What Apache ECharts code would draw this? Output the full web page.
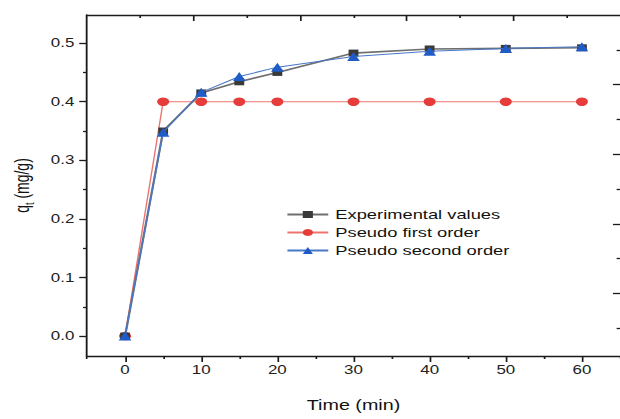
<!DOCTYPE html>
<html>
<head>
<meta charset="utf-8">
<script src="https://cdn.jsdelivr.net/npm/echarts@6/dist/echarts.min.js"></script>
<style>
html,body{margin:0;padding:0;background:#fff;overflow:hidden;}
#wrap{width:620px;height:419px;overflow:hidden;position:relative;}
#chart{width:440px;height:419px;transform:scaleX(1.40909);transform-origin:0 0;}
</style>
</head>
<body>
<div id="wrap"><div id="chart"></div></div>
<script>
// ---- data ----
var times = [0, 5, 10, 15, 20, 30, 40, 50, 60];
var experimental = [0, 0.350, 0.415, 0.434, 0.450, 0.483, 0.490, 0.491, 0.492];
var pseudoFirst  = [0, 0.400, 0.400, 0.400, 0.400, 0.400, 0.400, 0.400, 0.400];
var pseudoSecond = [0, 0.348, 0.416, 0.443, 0.459, 0.477, 0.486, 0.491, 0.494];
var seriesNames = ['Experimental values', 'Pseudo first order', 'Pseudo second order'];
var xMajorTicks = [0, 10, 20, 30, 40, 50, 60];
var xMinorTicks = [-5, 5, 15, 25, 35, 45, 55, 65];
var yMajorTicks = [0, 0.1, 0.2, 0.3, 0.4, 0.5];
var yMinorTicks = [0.05, 0.15, 0.25, 0.35, 0.45];
var topMajorTicks = [2, 4, 6, 8];
var topMinorTicks = [1, 3, 5, 7, 9];
var rightMajorTicks = [2, 4, 6, 8];
var rightMinorTicks = [1, 3, 5, 7, 9];

function pairs(xs, ys){ return xs.map(function(x,i){ return [x, ys[i]]; }); }

var FONT = 'Liberation Sans, Arial, sans-serif';
var AX = '#1a1a1a';
var S = 1.40909;

var chart = echarts.init(document.getElementById('chart'), null, {renderer:'svg'});

function hiddenAxisBase(){ return {axisLine:{show:false, onZero:false}, splitLine:{show:false}, axisLabel:{show:false}}; }

var option = {
  backgroundColor:'#fff',
  animation:false,
  grid:{left:87/S, top:15, right:0, bottom:63, containLabel:false},
  legend:{
    data: seriesNames,
    orient:'vertical',
    left: 286/S, top: 208,
    padding:0,
    itemWidth: 29, itemHeight: 9, itemGap: 5,
    textStyle:{fontFamily:FONT, fontSize:13, color:'#111'}
  },
  xAxis:[
    {type:'value', position:'bottom', min:-5, max:65,
     axisLine:{show:true, onZero:false, lineStyle:{color:AX, width:1.3}},
     axisTick:{show:true, inside:false, length:6, customValues:xMajorTicks, lineStyle:{color:AX, width:1.2}},
     axisLabel:{show:true, customValues:xMajorTicks, margin:8, fontFamily:FONT, fontSize:12, color:'#222'},
     splitLine:{show:false},
     name:'Time (min)', nameLocation:'middle', nameGap:42,
     nameTextStyle:{fontFamily:FONT, fontSize:14, color:'#111'}},
    Object.assign(hiddenAxisBase(), {type:'value', position:'bottom', min:-5, max:65,
     axisTick:{show:true, inside:false, length:3, customValues:xMinorTicks, lineStyle:{color:AX, width:1.2}}}),
    {type:'value', position:'top', min:0, max:10,
     axisLine:{show:true, onZero:false, lineStyle:{color:AX, width:1.3}},
     axisTick:{show:true, inside:true, length:6, customValues:topMajorTicks, lineStyle:{color:AX, width:1.2}},
     axisLabel:{show:false}, splitLine:{show:false}},
    Object.assign(hiddenAxisBase(), {type:'value', position:'top', min:0, max:10,
     axisTick:{show:true, inside:true, length:3, customValues:topMinorTicks, lineStyle:{color:AX, width:1.2}}})
  ],
  yAxis:[
    {type:'value', position:'left', min:-0.034, max:0.548,
     axisLine:{show:true, onZero:false, lineStyle:{color:AX, width:1.3}},
     axisTick:{show:true, inside:false, length:5.5, customValues:yMajorTicks, lineStyle:{color:AX, width:1.3}},
     axisLabel:{show:true, customValues:yMajorTicks, margin:9, fontFamily:FONT, fontSize:12, color:'#222',
       formatter:function(v){ return v.toFixed(1); }},
     splitLine:{show:false},
     name:'{a|q}{b|t}{a| (mg/g)}', nameLocation:'middle', nameGap:34, nameRotate:90,
     nameTextStyle:{fontFamily:FONT, color:'#111',
       rich:{a:{fontFamily:FONT, fontSize:14, color:'#111', lineHeight:18},
             b:{fontFamily:FONT, fontSize:9, color:'#111', lineHeight:18, verticalAlign:'bottom', padding:[6,0,0,0]}}}},
    Object.assign(hiddenAxisBase(), {type:'value', position:'left', min:-0.034, max:0.548,
     axisTick:{show:true, inside:false, length:2.8, customValues:yMinorTicks, lineStyle:{color:AX, width:1.3}}}),
    {type:'value', position:'right', min:0.2, max:10,
     axisLine:{show:false, onZero:false},
     axisTick:{show:true, inside:true, length:5, customValues:rightMajorTicks, lineStyle:{color:AX, width:1.3}},
     axisLabel:{show:false}, splitLine:{show:false}},
    Object.assign(hiddenAxisBase(), {type:'value', position:'right', min:0.2, max:10,
     axisTick:{show:true, inside:true, length:2.4, customValues:rightMinorTicks, lineStyle:{color:AX, width:1.3}}})
  ],
  series:[
    {name:seriesNames[1], type:'line', xAxisIndex:0, yAxisIndex:0, data:pairs(times, pseudoFirst),
     symbol:'circle', symbolSize:8.5, showAllSymbol:true, z:2,
     lineStyle:{color:'#ec7470', width:1}, itemStyle:{color:'#e63c3a'}},
    {name:seriesNames[0], type:'line', xAxisIndex:0, yAxisIndex:0, data:pairs(times, experimental),
     symbol:'rect', symbolSize:7, showAllSymbol:true, z:3,
     lineStyle:{color:'#6e6e6e', width:1.6}, itemStyle:{color:'#3a3a3a'}},
    {name:seriesNames[2], type:'line', xAxisIndex:0, yAxisIndex:0, data:pairs(times, pseudoSecond),
     symbol:'triangle', symbolSize:9, showAllSymbol:true, z:4,
     lineStyle:{color:'#4a78c8', width:1}, itemStyle:{color:'#1f5cc8'}}
  ]
};
chart.setOption(option);
</script>
</body>
</html>
